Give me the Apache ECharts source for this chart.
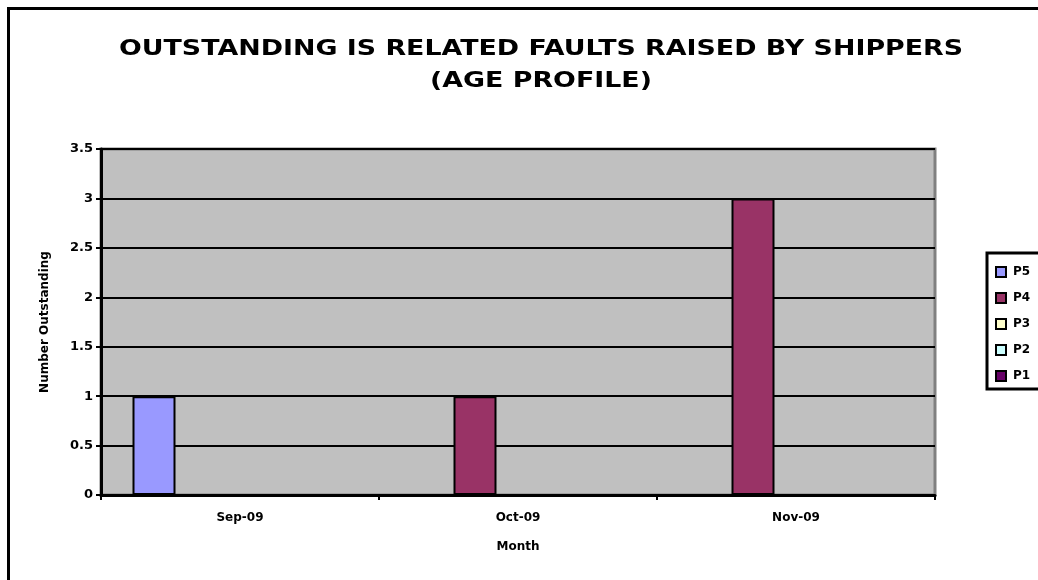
<!DOCTYPE html>
<html>
<head>
<meta charset="utf-8">
<script src="https://cdn.jsdelivr.net/npm/echarts@6/dist/echarts.min.js"></script>
<style>
html,body{margin:0;padding:0;background:#fff;}
#chart{width:1038px;height:580px;}
</style>
</head>
<body>
<div id="chart"></div>
<script>
var titleText = 'OUTSTANDING IS RELATED FAULTS RAISED BY SHIPPERS\n(AGE PROFILE)';
var categories = ['Sep-09', 'Oct-09', 'Nov-09'];
var seriesNames = ['P5', 'P4', 'P3', 'P2', 'P1'];
var P5 = [1, null, null];
var P4 = [null, 1, 3];
var P3 = [null, null, null];
var P2 = [null, null, null];
var P1 = [null, null, null];
var seriesColors = ['#9999FF', '#993366', '#FFFFCC', '#CCFFFF', '#660066'];
var yTicks = ['0', '0.5', '1', '1.5', '2', '2.5', '3', '3.5'];

var values = [P5, P4, P3, P2, P1];
var FONT = 'DejaVu Sans';

var chart = echarts.init(document.getElementById('chart'));
var series = seriesNames.map(function (n, i) {
  return {
    name: n,
    type: 'bar',
    data: values[i],
    barWidth: 43,
    barGap: '0%',
    itemStyle: { color: seriesColors[i], borderColor: '#000', borderWidth: 2 },
    silent: true
  };
});

chart.setOption({
  animation: false,
  backgroundColor: '#fff',
  legend: {
    orient: 'vertical',
    left: 987,
    top: 253,
    padding: [13, 30, 7, 8],
    itemWidth: 10,
    itemHeight: 10,
    itemGap: 14,
    icon: 'rect',
    borderColor: '#000',
    borderWidth: 3,
    itemStyle: { borderColor: '#000', borderWidth: 2 },
    textStyle: { fontFamily: FONT, fontSize: 12, fontWeight: 'bold', color: '#000', lineHeight: 12, padding: [0, 0, 0, 2] },
    data: seriesNames
  },
  grid: { left: 101, right: 103, top: 149, bottom: 85, show: true, backgroundColor: '#C0C0C0', borderColor: '#808080', borderWidth: 3 },
  xAxis: {
    type: 'category',
    data: categories,
    name: 'Month',
    nameLocation: 'middle',
    nameGap: 46,
    nameTextStyle: { fontFamily: FONT, fontSize: 12, fontWeight: 'bold', color: '#000' },
    axisLine: { lineStyle: { color: '#000', width: 3 } },
    axisTick: { show: true, length: 5, lineStyle: { color: '#000', width: 2 } },
    axisLabel: { fontFamily: FONT, fontSize: 12, fontWeight: 'bold', color: '#000', margin: 17 }
  },
  yAxis: {
    type: 'value',
    min: 0,
    max: 3.5,
    interval: 0.5,
    name: 'Number Outstanding',
    nameLocation: 'middle',
    nameGap: 50,
    nameRotate: 90,
    nameTextStyle: { fontFamily: FONT, fontSize: 12, fontWeight: 'bold', color: '#000' },
    axisLine: { show: true, lineStyle: { color: '#000', width: 3 } },
    axisTick: { show: true, length: 5, lineStyle: { color: '#000', width: 2 } },
    splitLine: { show: true, lineStyle: { color: '#000', width: 2 } },
    axisLabel: {
      fontFamily: FONT, fontSize: 13, fontWeight: 'bold', color: '#000', margin: 8,
      formatter: function (v) { return yTicks[Math.round(v * 2)]; }
    }
  },
  graphic: [{
    type: 'rect',
    left: 6, top: 6,
    shape: { width: 1060, height: 600 },
    style: { fill: 'none', stroke: '#000', lineWidth: 3 },
    silent: true, z: 100
  }, {
    type: 'text',
    x: 541, y: 65,
    scaleX: 1.22,
    originX: 0, originY: 0,
    style: {
      text: titleText,
      align: 'center', verticalAlign: 'middle',
      fontFamily: FONT, fontSize: 22, fontWeight: 'bold', fill: '#000', lineHeight: 32
    },
    silent: true
  }],
  series: series
});
</script>
</body>
</html>
